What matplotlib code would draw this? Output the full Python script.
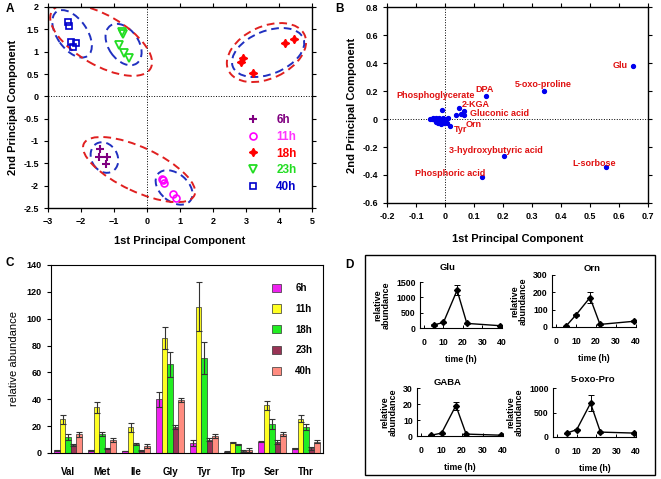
import matplotlib
matplotlib.use("Agg")
import matplotlib.pyplot as plt
from matplotlib.patches import Ellipse, Rectangle
from matplotlib.transforms import ScaledTranslation
import numpy as np

plt.rcParams['font.family'] = ['Liberation Sans', 'DejaVu Sans']
plt.rcParams['font.weight'] = 'bold'
plt.rcParams['axes.labelweight'] = 'bold'
plt.rcParams['axes.titleweight'] = 'bold'

# ---- panel A: PCA scores ----
groups = ["6h", "11h", "18h", "23h", "40h"]
pc1_6h = [-1.43, -1.46, -1.21, -1.23]
pc2_6h = [-1.17, -1.36, -1.36, -1.51]
pc1_11h = [0.46, 0.51, 0.48, 0.80, 0.88]
pc2_11h = [-1.85, -1.93, -1.88, -2.18, -2.28]
pc1_18h = [2.84, 2.92, 3.20, 4.17, 4.46]
pc2_18h = [0.77, 0.86, 0.52, 1.19, 1.28]
pc1_23h = [-0.77, -0.72, -0.85, -0.70, -0.55]
pc2_23h = [1.44, 1.40, 1.16, 0.96, 0.86]
pc1_40h = [-2.39, -2.37, -2.29, -2.14, -2.24]
pc2_40h = [1.66, 1.58, 1.21, 1.19, 1.10]

# cluster ellipses: centre (data), size (px), angle (deg)
ell_cx = [-2.27, -0.71, -1.39, 3.62, 3.67, -1.29, 0.82, -0.24]
ell_cy = [1.40, 1.16, 1.26, 0.98, 0.98, -1.37, -2.04, -1.64]
ell_w = [54, 46, 114, 84, 76, 32, 42, 122]
ell_h = [30, 30, 50, 52, 43, 26, 28, 44]
ell_ang = [-55, -55, -30, 25, 22, -60, -40, -25]
ell_red = [False, False, True, True, False, False, False, True]

# ---- panel B: loadings ----
load_x = [0.649, 0.342, 0.141, 0.049, 0.064, 0.056, 0.067, 0.037, 0.018,
          0.555, 0.205, 0.127, -0.009,
          -0.050, -0.045, -0.040, -0.035, -0.030, -0.028, -0.025, -0.020,
          -0.018, -0.015, -0.010, -0.008, -0.005, 0.000, 0.005, 0.008,
          0.010, -0.022, -0.012, -0.030]
load_y = [0.376, 0.198, 0.167, 0.079, 0.055, 0.036, 0.026, 0.031, -0.052,
          -0.345, -0.267, -0.417, 0.067,
          0.000, 0.003, 0.010, -0.005, -0.020, 0.000, -0.030, 0.005,
          -0.015, -0.035, -0.010, 0.010, -0.030, -0.005, 0.000, -0.025,
          0.008, -0.020, -0.002, 0.010]
load_names = ["Glu", "5-oxo-proline", "DPA", "Phosphoglycerate", "2-KGA",
              "Gluconic acid", "Orn", "Tyr", "3-hydroxybutyric acid",
              "L-sorbose", "Phosphoric acid"]
name_x = [0.603, 0.337, 0.135, -0.032, 0.106, 0.188, 0.098, 0.052, 0.175, 0.514, 0.016]
name_y = [0.383, 0.245, 0.210, 0.169, 0.102, 0.036, -0.040, -0.076, -0.224, -0.319, -0.386]

# ---- panel C: amino acids ----
amino = ["Val", "Met", "Ile", "Gly", "Tyr", "Trp", "Ser", "Thr"]
ab_6h = [2, 2, 1.5, 40, 7.5, 1, 8.5, 3.5]
ab_11h = [25, 34, 19, 85.5, 109, 8, 35.5, 25.5]
ab_18h = [12, 14, 7, 66, 71, 6.5, 21.5, 19.5]
ab_23h = [6, 3.5, 2, 19.5, 10, 1.5, 8.5, 3.5]
ab_40h = [14, 9.5, 5.5, 39.5, 12.5, 2.5, 14.5, 8.5]
er_6h = [0.3, 0.3, 0.3, 5.5, 2, 0.3, 0.5, 0.5]
er_11h = [3.2, 4, 3.5, 8, 18, 0.5, 3.5, 2.5]
er_18h = [2.5, 1.5, 0.7, 9.5, 12, 0.5, 3.5, 2]
er_23h = [0.5, 0.5, 0.5, 1.5, 1, 0.5, 1.5, 1]
er_40h = [2, 1.5, 1.5, 1.5, 1.5, 1.5, 1.5, 1]

# ---- panel D: time courses ----
time_h = [5, 10, 17, 22, 39]
glu = [100, 180, 1230, 150, 75]
glu_err = [20, 30, 170, 20, 10]
orn = [5, 70, 170, 15, 33]
orn_err = [2, 5, 30, 3, 5]
gaba = [0.5, 1.8, 19, 1.2, 0.5]
gaba_err = [0.2, 0.3, 2.5, 0.2, 0.1]
oxopro = [80, 150, 690, 100, 80]
oxopro_err = [10, 15, 160, 10, 10]

W, H = 661, 479
fig = plt.figure(figsize=(W / 100, H / 100), dpi=100)


def box(l, t, r, b):
    return [l / W, (H - b) / H, (r - l) / W, (b - t) / H]


def style_box(ax, size=6.5):
    ax.tick_params(which="both", labelsize=size, length=3, width=0.8)
    ax.tick_params(axis="both", direction="out")
    ax.tick_params(top=True, right=True)
    for s in ax.spines.values():
        s.set_linewidth(1.0)


# ===== A =====
axA = fig.add_axes(box(48, 7, 312, 208))
axA.set_xlim(-3, 5)
axA.set_ylim(-2.5, 2)
axA.axhline(0, color="k", ls=":", lw=0.7)
axA.axvline(0, color="k", ls=":", lw=0.7)
hA = []
hA.append(axA.plot(pc1_6h, pc2_6h, "+", color="#800080", ms=6, mew=1.5, ls="none")[0])
hA.append(axA.plot(pc1_11h, pc2_11h, "o", mfc="none", mec="#ff00ff", ms=5, mew=1.2, ls="none")[0])
hA.append(axA.plot(pc1_18h, pc2_18h, marker=(4, 1, 0), color="#ff0000", ms=6, ls="none")[0])
hA.append(axA.plot(pc1_23h, pc2_23h, "v", mfc="none", mec="#22dd22", ms=5.5, mew=1.3, ls="none")[0])
hA.append(axA.plot(pc1_40h, pc2_40h, "s", mfc="none", mec="#0000cc", ms=5, mew=1.2, ls="none")[0])
for cx, cy, w, h, a, red in zip(ell_cx, ell_cy, ell_w, ell_h, ell_ang, ell_red):
    tr = fig.dpi_scale_trans + ScaledTranslation(cx, cy, axA.transData)
    axA.add_patch(Ellipse((0, 0), w / 100, h / 100, angle=a, transform=tr, fill=False,
                          ec="#e02020" if red else "#2030c0", lw=1.4, ls=(0, (4, 2.5))))
axA.legend(hA, groups, loc="upper left", bbox_to_anchor=(0.69, 0.52), frameon=False,
           handletextpad=1.0, labelspacing=0.4, prop={"weight": "bold", "size": 8.5},
           labelcolor=["#800080", "#ff33ff", "#ff0000", "#22dd22", "#0000cc"])
axA.set_xticks(range(-3, 6))
axA.set_yticks(np.arange(-2.5, 2.01, 0.5))
axA.set_yticklabels(["-2.5", "-2", "-1.5", "-1", "-0.5", "0", "0.5", "1", "1.5", "2"])
style_box(axA)
axA.set_xlabel("1st Principal Component", fontsize=8, labelpad=7)
axA.set_ylabel("2nd Principal Component", fontsize=8, labelpad=4)
fig.text(6 / W, (H - 9) / H, "A", fontsize=8.5, va="center")

# ===== B =====
axB = fig.add_axes(box(387, 7, 648, 203))
axB.set_xlim(-0.2, 0.7)
axB.set_ylim(-0.6, 0.8)
axB.axhline(0, color="k", ls=":", lw=0.7)
axB.axvline(0, color="k", ls=":", lw=0.7)
axB.plot(load_x, load_y, "o", color="#0000ee", ms=2.8, ls="none")
for nm, x, y in zip(load_names, name_x, name_y):
    axB.text(x, y, nm, color="#e01010", fontsize=6.5, ha="center", va="center")
axB.set_xticks(np.arange(-0.2, 0.71, 0.1))
axB.set_xticklabels(["-0.2", "-0.1", "0", "0.1", "0.2", "0.3", "0.4", "0.5", "0.6", "0.7"])
axB.set_yticks(np.arange(-0.6, 0.81, 0.2))
axB.set_yticklabels(["-0.6", "-0.4", "-0.2", "0", "0.2", "0.4", "0.6", "0.8"])
style_box(axB)
axB.set_xlabel("1st Principal Component", fontsize=8, labelpad=9)
axB.set_ylabel("2nd Principal Component", fontsize=8, labelpad=4)
fig.text(335 / W, (H - 9) / H, "B", fontsize=8.5, va="center")

# ===== C =====
axC = fig.add_axes(box(51, 265, 323, 453))
xs = np.arange(len(amino))
bw = 0.16
series = [ab_6h, ab_11h, ab_18h, ab_23h, ab_40h]
errs = [er_6h, er_11h, er_18h, er_23h, er_40h]
cols = ["#ee22ee", "#ffff22", "#22ee22", "#993355", "#ff8c80"]
for i, (vals, e, c) in enumerate(zip(series, errs, cols)):
    axC.bar(xs + (i - 2) * bw, vals, bw, yerr=e, color=c, edgecolor="#333333", lw=0.5,
            label=groups[i], error_kw={"elinewidth": 0.8, "capsize": 2, "capthick": 0.8,
                                        "ecolor": "#333333"})
axC.set_xlim(-0.5, 7.5)
axC.set_ylim(0, 140)
axC.set_yticks(range(0, 141, 20))
axC.set_xticks(xs)
axC.set_xticklabels(amino, fontsize=7)
axC.tick_params(axis="x", length=0, pad=10)
axC.tick_params(axis="y", labelsize=6.5, length=3, direction="out")
axC.set_ylabel("relative abundance", fontsize=8, weight="normal", labelpad=6)
axC.legend(loc="upper left", bbox_to_anchor=(0.78, 0.95), frameon=False,
           handlelength=0.9, handleheight=0.9, labelspacing=1.1, handletextpad=1.5,
           prop={"weight": "bold", "size": 7})
fig.text(6 / W, (H - 263) / H, "C", fontsize=8.5, va="center")

# ===== D =====
fig.add_artist(Rectangle((365 / W, (H - 475) / H), 290 / W, 220 / H,
                         transform=fig.transFigure, fill=False, lw=1, ec="k"))
fig.text(345 / W, (H - 265) / H, "D", fontsize=8.5, va="center")

d_panels = [
    (box(420, 282, 502, 328), "Glu", glu, glu_err, 1500, 500, 0.34, 9),
    (box(552, 275, 636, 327), "Orn", orn, orn_err, 300, 100, 0.48, 3),
    (box(417, 388, 503, 436), "GABA", gaba, gaba_err, 30, 10, 0.35, 2),
    (box(553, 388, 636, 437), "5-oxo-Pro", oxopro, oxopro_err, 1000, 500, 0.48, 4),
]
for rect, title, vals, e, ymax, ystep, tx, tpad in d_panels:
    ax = fig.add_axes(rect)
    ax.errorbar(time_h, vals, yerr=e, color="k", marker="D", ms=3, lw=1,
                elinewidth=0.7, capsize=2, capthick=0.7)
    ax.set_xlim(-2, 40)
    ax.set_ylim(0, ymax)
    ax.set_xticks(range(0, 41, 10))
    ax.set_yticks(np.arange(0, ymax + 1, ystep))
    ax.spines["top"].set_visible(False)
    ax.spines["right"].set_visible(False)
    ax.tick_params(labelsize=6.3, direction="in", length=2.5, width=0.7, pad=7)
    ax.tick_params(axis="y", pad=3)
    ax.set_title(title, fontsize=6.8, x=tx, pad=tpad)
    ax.set_xlabel("time (h)", fontsize=6.3, labelpad=6)
    ax.set_ylabel("relative\nabundance", fontsize=6.5, labelpad=4, linespacing=0.95)

fig.savefig("out.png", dpi=100)
